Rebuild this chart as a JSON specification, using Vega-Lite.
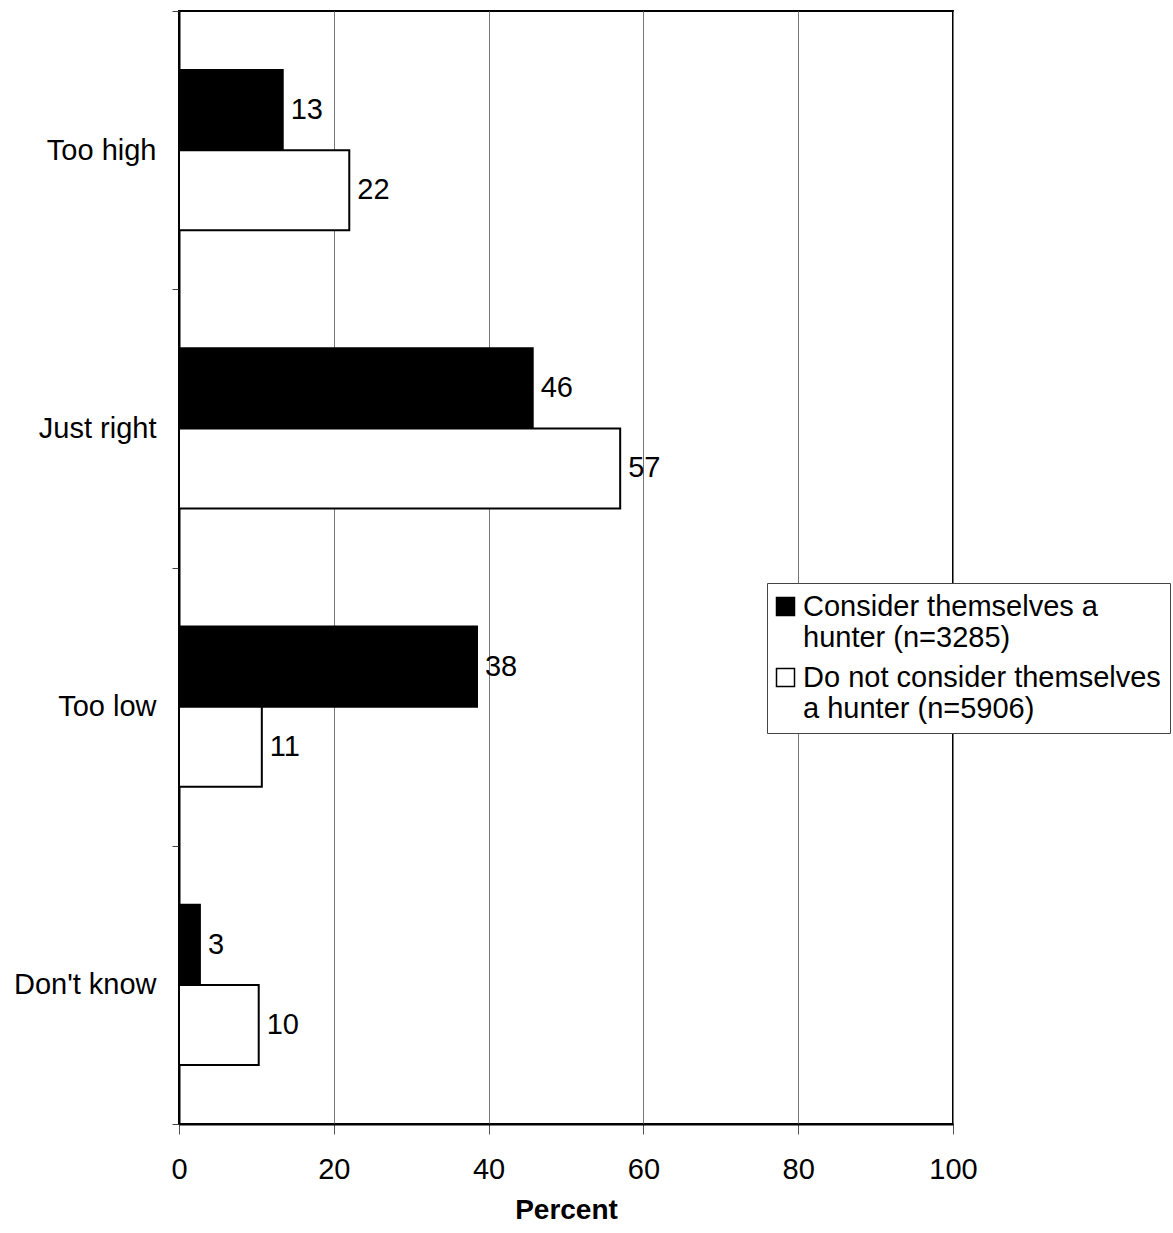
{
  "$schema": "https://vega.github.io/schema/vega-lite/v6.json",
  "autosize": "none",
  "width": 774,
  "height": 1113,
  "padding": {"left": 179, "top": 11, "right": 220, "bottom": 109},
  "background": "white",
  "config": {
    "font": "Liberation Sans",
    "view": {"stroke": "black", "strokeWidth": 2}
  },
  "data": {
    "values": [
      {"response": "Too high", "group": "Consider themselves a|hunter (n=3285)", "percent": 13.4, "label": "13"},
      {"response": "Too high", "group": "Do not consider themselves|a hunter (n=5906)", "percent": 22.0, "label": "22"},
      {"response": "Just right", "group": "Consider themselves a|hunter (n=3285)", "percent": 45.7, "label": "46"},
      {"response": "Just right", "group": "Do not consider themselves|a hunter (n=5906)", "percent": 57.0, "label": "57"},
      {"response": "Too low", "group": "Consider themselves a|hunter (n=3285)", "percent": 38.5, "label": "38"},
      {"response": "Too low", "group": "Do not consider themselves|a hunter (n=5906)", "percent": 10.7, "label": "11"},
      {"response": "Don't know", "group": "Consider themselves a|hunter (n=3285)", "percent": 2.7, "label": "3"},
      {"response": "Don't know", "group": "Do not consider themselves|a hunter (n=5906)", "percent": 10.3, "label": "10"}
    ]
  },
  "encoding": {
    "y": {
      "field": "response",
      "type": "nominal",
      "sort": ["Too high", "Just right", "Too low", "Don't know"],
      "scale": {"paddingInner": 0, "paddingOuter": 0},
      "axis": {
        "title": null,
        "domainColor": "black",
        "domainWidth": 2,
        "tickColor": "#444444",
        "tickWidth": 1,
        "tickSize": 7,
        "tickBand": "extent",
        "labelFontSize": 29,
        "labelColor": "black",
        "labelPadding": 16,
        "labelLimit": 300
      }
    },
    "yOffset": {
      "field": "group",
      "type": "nominal",
      "scale": {"paddingInner": 0, "paddingOuter": 0.7375}
    },
    "x": {
      "field": "percent",
      "type": "quantitative",
      "scale": {"domain": [0, 100], "nice": false},
      "axis": {
        "title": "Percent",
        "titleFontSize": 28,
        "titleFontWeight": "bold",
        "titleColor": "black",
        "titlePadding": 12,
        "values": [0, 20, 40, 60, 80, 100],
        "labelFlush": false,
        "domainColor": "black",
        "domainWidth": 2,
        "tickColor": "#555555",
        "tickSize": 10,
        "labelFontSize": 29,
        "labelColor": "black",
        "labelPadding": 21,
        "grid": true,
        "gridColor": "#777777",
        "gridWidth": 1
      }
    }
  },
  "layer": [
    {
      "mark": {"type": "bar", "stroke": "black", "strokeWidth": 2, "height": {"band": 1}},
      "encoding": {
        "fill": {
          "field": "group",
          "type": "nominal",
          "scale": {"range": ["black", "white"]},
          "legend": {
            "title": null,
            "orient": "none",
            "legendX": 588,
            "legendY": 572,
            "labelExpr": "split(datum.label, '|')",
            "labelFontSize": 29,
            "labelColor": "black",
            "labelLimit": 600,
            "labelOffset": 3,
            "symbolType": "square",
            "symbolSize": 324,
            "symbolStrokeColor": "black",
            "symbolStrokeWidth": 1.5,
            "strokeColor": "#444444",
            "fillColor": "white",
            "padding": 9,
            "rowPadding": 10,
            "symbolOffset": -5
          }
        }
      }
    },
    {
      "mark": {"type": "text", "align": "left", "baseline": "middle", "dx": 8, "fontSize": 29, "color": "black"},
      "encoding": {
        "text": {"field": "label"}
      }
    }
  ]
}
